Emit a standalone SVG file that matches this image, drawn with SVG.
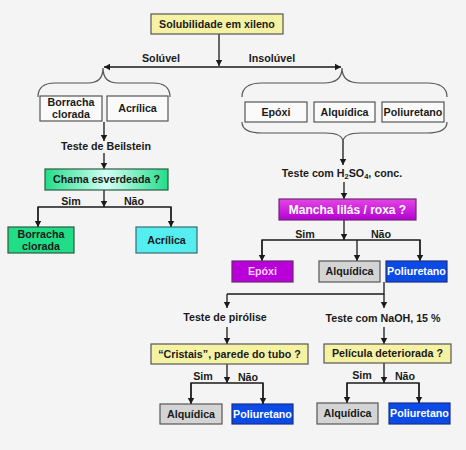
<svg xmlns="http://www.w3.org/2000/svg" width="466" height="450" viewBox="0 0 466 450">
<defs>
<marker id="ah" viewBox="0 0 6 8" refX="6" refY="4" markerWidth="6" markerHeight="8" markerUnits="userSpaceOnUse" orient="auto">
<path d="M0,0.8 L6,4 L0,7.2 Z" fill="#1a1a1a"/>
</marker>
<linearGradient id="gGreen" x1="0" y1="0" x2="1" y2="0">
<stop offset="0" stop-color="#22dd88"/>
<stop offset="0.5" stop-color="#d2fff6"/>
<stop offset="1" stop-color="#22dd88"/>
</linearGradient>
<linearGradient id="gMag" x1="0" y1="0" x2="0" y2="1">
<stop offset="0" stop-color="#e446e4"/>
<stop offset="1" stop-color="#b400d2"/>
</linearGradient>
</defs>
<style>
text{font-family:"Liberation Sans",Arial,sans-serif;font-weight:bold;font-size:10.7px;fill:#1a1a1a;text-anchor:middle}
.plain{fill:#fafafa;stroke:#555;stroke-width:1.2}
.yel{fill:#f6f2a4;stroke:#555;stroke-width:1.2}
.gray{fill:#d4d4d4;stroke:#555;stroke-width:1.2}
.blue{fill:#0a4be8;stroke:#1a2f80;stroke-width:1.2}
.mag{fill:#b900d9;stroke:#6a2a70;stroke-width:1.2}
.grn{fill:#22dd88;stroke:#2a5a40;stroke-width:1.2}
.cyan{fill:#55eef0;stroke:#3a6a70;stroke-width:1.2}
.w{fill:#ffffff}
.pk{fill:#ffd0ff}
.big{font-size:12px}
#connectors path,#connectors line{stroke:#1a1a1a;stroke-width:1.3;fill:none}
.brace{stroke:#555;stroke-width:1.2;fill:none}
</style>
<rect width="466" height="450" fill="#f4f4f4"/>

<g id="connectors">
<line x1="219" y1="34" x2="219" y2="66" marker-end="url(#ah)"/>
<line x1="219" y1="67" x2="104" y2="67" marker-end="url(#ah)"/>
<line x1="219" y1="67" x2="341" y2="67" marker-end="url(#ah)"/>
<line x1="104" y1="122" x2="104" y2="141" marker-end="url(#ah)"/>
<line x1="104" y1="153" x2="104" y2="169" marker-end="url(#ah)"/>
<line x1="104" y1="190" x2="104" y2="207" marker-end="url(#ah)"/>
<path d="M38,227 V207 H171 V227"/>
<line x1="38" y1="207" x2="38" y2="227" marker-end="url(#ah)"/>
<line x1="171" y1="207" x2="171" y2="227" marker-end="url(#ah)"/>
<line x1="343" y1="141" x2="343" y2="165" marker-end="url(#ah)"/>
<line x1="344" y1="182" x2="344" y2="199" marker-end="url(#ah)"/>
<line x1="344" y1="220" x2="344" y2="240" marker-end="url(#ah)"/>
<path d="M262,260 V240 H420 V260"/>
<line x1="262" y1="240" x2="262" y2="261" marker-end="url(#ah)"/>
<line x1="357" y1="240" x2="357" y2="261" marker-end="url(#ah)"/>
<line x1="420" y1="240" x2="420" y2="261" marker-end="url(#ah)"/>
<path d="M384,282 V294 H227"/>
<line x1="227" y1="294" x2="227" y2="308" marker-end="url(#ah)"/>
<line x1="384" y1="294" x2="384" y2="308" marker-end="url(#ah)"/>
<line x1="227" y1="327" x2="227" y2="344" marker-end="url(#ah)"/>
<line x1="384" y1="327" x2="384" y2="344" marker-end="url(#ah)"/>
<line x1="227" y1="364" x2="227" y2="383" marker-end="url(#ah)"/>
<path d="M191,404 V383 H263 V404"/>
<line x1="191" y1="383" x2="191" y2="404" marker-end="url(#ah)"/>
<line x1="263" y1="383" x2="263" y2="404" marker-end="url(#ah)"/>
<line x1="384" y1="363" x2="384" y2="383" marker-end="url(#ah)"/>
<path d="M347,403 V383 H419 V403"/>
<line x1="347" y1="383" x2="347" y2="403" marker-end="url(#ah)"/>
<line x1="419" y1="383" x2="419" y2="403" marker-end="url(#ah)"/>
</g>

<g id="labels">
<text x="161" y="62">Solúvel</text>
<text x="272" y="62">Insolúvel</text>
<text x="106" y="150">Teste de Beilstein</text>
<text x="71" y="205">Sim</text>
<text x="134" y="205">Não</text>
<text x="342" y="177">Teste com H<tspan font-size="7.5px" dy="2">2</tspan><tspan dy="-2">SO</tspan><tspan font-size="7.5px" dy="2">4</tspan><tspan dy="-2">, conc.</tspan></text>
<text x="305" y="238">Sim</text>
<text x="381" y="238">Não</text>
<text x="225" y="321">Teste de pirólise</text>
<text x="383" y="322">Teste com NaOH, 15 %</text>
<text x="203" y="380">Sim</text>
<text x="248" y="381">Não</text>
<text x="362" y="379">Sim</text>
<text x="405" y="380">Não</text>
</g>

<g id="braces">
<path class="brace" d="M38,97 Q38,83 55,83 L88,83 Q103,83 103,68 Q103,83 118,83 L153,83 Q170,83 170,97"/>
<path class="brace" d="M242,97 Q242,83 262,83 L324,83 Q342,83 342,68 Q342,83 360,83 L427,83 Q447,83 447,97"/>
<path class="brace" d="M242,122 Q242,133 262,133 L325,133 Q343,133 343,142 Q343,133 361,133 L427,133 Q447,133 447,122"/>
</g>

<g id="n-solubilidade"><rect class="yel" x="151" y="14" width="132" height="20"/><text x="217" y="28">Solubilidade em xileno</text></g>
<g id="n-borracha1"><rect class="plain" x="40" y="96" width="62" height="25"/><text x="71" y="106">Borracha</text><text x="71" y="118">clorada</text></g>
<g id="n-acrilica1"><rect class="plain" x="107" y="96" width="61" height="25"/><text x="137.5" y="112">Acrílica</text></g>
<g id="n-epoxi1"><rect class="plain" x="245" y="102" width="62" height="20"/><text x="276" y="116">Epóxi</text></g>
<g id="n-alquidica1"><rect class="plain" x="314" y="102" width="61" height="20"/><text x="344.5" y="116">Alquídica</text></g>
<g id="n-poliuretano1"><rect class="plain" x="382" y="102" width="62" height="20"/><text x="413" y="116">Poliuretano</text></g>
<g id="n-chama"><rect x="45" y="169" width="123" height="21" fill="url(#gGreen)" stroke="#2a5a40" stroke-width="1.2"/><text x="106.5" y="183">Chama esverdeada ?</text></g>
<g id="n-borracha2"><rect class="grn" x="8" y="227" width="66" height="26"/><text x="41" y="238">Borracha</text><text x="41" y="250">clorada</text></g>
<g id="n-acrilica2"><rect class="cyan" x="136" y="227" width="61" height="26"/><text x="166.5" y="244">Acrílica</text></g>
<g id="n-mancha"><rect x="279" y="199" width="137" height="21" fill="url(#gMag)" stroke="#6a2a70" stroke-width="1.2"/><text class="w big" x="347.5" y="214">Mancha lilás / roxa ?</text></g>
<g id="n-epoxi2"><rect class="mag" x="232" y="261" width="61" height="21"/><text class="pk" x="262.5" y="275">Epóxi</text></g>
<g id="n-alquidica2"><rect class="gray" x="319" y="261" width="61" height="21"/><text x="349.5" y="275">Alquídica</text></g>
<g id="n-poliuretano2"><rect class="blue" x="386" y="261" width="61" height="21"/><text class="w" x="416.5" y="275">Poliuretano</text></g>
<g id="n-cristais"><rect class="yel" x="151" y="344" width="157" height="20"/><text x="229.5" y="358">“Cristais”, parede do tubo ?</text></g>
<g id="n-pelicula"><rect class="yel" x="324" y="344" width="127" height="19"/><text x="387.5" y="357">Película deteriorada ?</text></g>
<g id="n-alquidica3"><rect class="gray" x="160" y="404" width="62" height="20"/><text x="191" y="418">Alquídica</text></g>
<g id="n-poliuretano3"><rect class="blue" x="232" y="404" width="61" height="20"/><text class="w" x="262.5" y="418">Poliuretano</text></g>
<g id="n-alquidica4"><rect class="gray" x="317" y="403" width="61" height="21"/><text x="347.5" y="417">Alquídica</text></g>
<g id="n-poliuretano4"><rect class="blue" x="389" y="403" width="61" height="21"/><text class="w" x="419.5" y="417">Poliuretano</text></g>
</svg>
